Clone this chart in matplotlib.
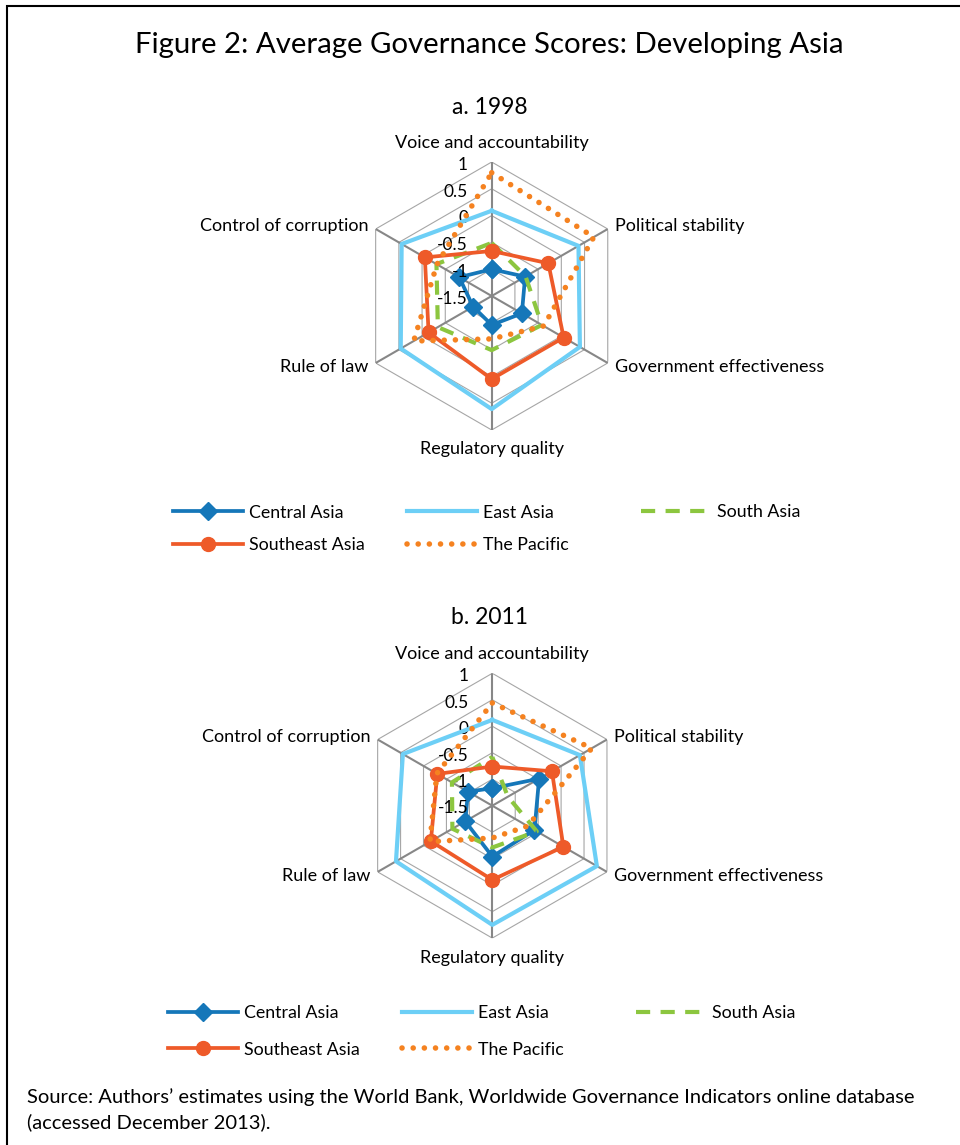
import numpy as np
import matplotlib
matplotlib.use("Agg")
import matplotlib.pyplot as plt
from matplotlib.lines import Line2D

plt.rcParams['font.family'] = ['Lato', 'DejaVu Sans']

W, H = 960, 1145

categories = ["Voice and accountability", "Political stability", "Government effectiveness",
              "Regulatory quality", "Rule of law", "Control of corruption"]
series_names = ["Central Asia", "East Asia", "South Asia", "Southeast Asia", "The Pacific"]

# 1998 scores
central_1998 = [-1.00, -0.78, -0.85, -0.96, -1.10, -0.80]
east_1998 = [0.09, 0.37, 0.40, 0.61, 0.46, 0.44]
south_1998 = [-0.51, -0.77, -0.42, -0.49, -0.34, -0.31]
southeast_1998 = [-0.66, -0.28, 0.05, 0.05, -0.14, -0.06]
pacific_1998 = [0.80, 0.70, -0.38, -0.70, 0.18, -0.32]

# 2011 scores
central_2011 = [-1.17, -0.48, -0.58, -0.54, -0.91, -0.97]
east_2011 = [0.12, 0.41, 0.78, 0.75, 0.60, 0.45]
south_2011 = [-0.58, -1.16, -0.53, -0.71, -0.63, -0.62]
southeast_2011 = [-0.76, -0.20, 0.05, -0.10, -0.16, -0.30]
pacific_2011 = [0.44, 0.67, -0.73, -0.89, -0.14, -0.29]

r_ticks = [1, 0.5, 0, -0.5, -1, -1.5]
r_tick_labels = ["1", "0.5", "0", "-0.5", "-1", "-1.5"]

styles = {
    "Central Asia": dict(color="#1577b9", lw=2.7, marker="D", ms=9),
    "East Asia": dict(color="#6dcff6", lw=3.0),
    "South Asia": dict(color="#8cc63f", lw=3.0, ls=(0, (3.4, 2.5))),
    "Southeast Asia": dict(color="#ee5a29", lw=2.7, marker="o", ms=10),
    "The Pacific": dict(color="#f58220", lw=4.0, ls=(0, (0.01, 2.0)), dash_capstyle="round"),
}

fig = plt.figure(figsize=(W / 100, H / 100), dpi=100)

# outer frame
fig.add_artist(plt.Rectangle((7 / W, -0.05), 2, 1 - 6 / H + 0.05, transform=fig.transFigure,
                             fill=False, lw=1.5, ec="black"))

fig.text(0.51, 1 - 45 / H, "Figure 2: Average Governance Scores: Developing Asia",
         ha="center", va="center", fontsize=21.2)


def radar(cx, cy, rad, data):
    ax = fig.add_axes([(cx - rad) / W, 1 - (cy + rad) / H, 2 * rad / W, 2 * rad / H], polar=True)
    ax.set_theta_offset(np.pi / 2)
    ax.set_theta_direction(-1)
    ax.set_ylim(-1.5, 1)
    ax.grid(False)
    ax.spines['polar'].set_visible(False)
    ax.set_xticks([])
    ax.set_yticks([])
    ax.patch.set_alpha(0)
    angles = np.arange(6) * 2 * np.pi / 6
    closed = np.append(angles, angles[0])
    for lvl in [-1, -0.5, 0, 0.5, 1]:
        ax.plot(closed, [lvl] * 7, color="#a6a6a6", lw=0.8, zorder=1)
    for a in angles:
        ax.plot([a, a], [-1.5, 1], color="#878787", lw=1.5, zorder=1)
    for i, (name, vals) in enumerate(zip(series_names, data)):
        ax.plot(closed, list(vals) + [vals[0]], zorder=3 + i, clip_on=False, **styles[name])
    for v, lab in zip(r_ticks, r_tick_labels):
        ax.annotate(lab, xy=(0, v), xytext=(-17, -2), textcoords="offset points",
                    ha="right", va="center", fontsize=12.5)
    offs = [(0, 14, "center"), (5, 2, "left"), (5, -3, "left"),
            (0, -14, "center"), (-5, -3, "right"), (-5, 2, "right")]
    for a, cat, (dx, dy, ha) in zip(angles, categories, offs):
        ax.annotate(cat, xy=(a, 1), xytext=(dx, dy), textcoords="offset points",
                    ha=ha, va="center", fontsize=13)
    return ax


def legends(x0, y1, gap, spacing):
    cols = [["Central Asia", "Southeast Asia"], ["East Asia", "The Pacific"], ["South Asia"]]
    for k, col in enumerate(cols):
        handles = [Line2D([], [], **styles[n]) for n in col]
        yc = y1 + gap * (len(col) - 1) / 2
        fig.legend(handles, col, loc="center left",
                   bbox_to_anchor=((x0 + k * 234) / W, 1 - yc / H),
                   frameon=False, fontsize=12.8, handlelength=3.95, handletextpad=0.35,
                   borderpad=0, borderaxespad=0, labelspacing=spacing, numpoints=1)


fig.text(0.51, 1 - 108 / H, "a. 1998", ha="center", va="center", fontsize=16.5)
radar(491.7, 296, 134, [central_1998, east_1998, south_1998, southeast_1998, pacific_1998])
legends(173, 512, 34, 0.95)

fig.text(0.51, 1 - 618 / H, "b. 2011", ha="center", va="center", fontsize=16.5)
radar(492.3, 805.7, 132.4, [central_2011, east_2011, south_2011, southeast_2011, pacific_2011])
legends(168, 1013, 37, 1.13)

fig.text(27 / W, 1 - 1097 / H,
         "Source: Authors\u2019 estimates using the World Bank, Worldwide Governance Indicators online database",
         ha="left", va="center", fontsize=14.5)
fig.text(27 / W, 1 - 1122 / H, "(accessed December 2013).", ha="left", va="center", fontsize=14.5)

fig.savefig("out.png", dpi=100)
